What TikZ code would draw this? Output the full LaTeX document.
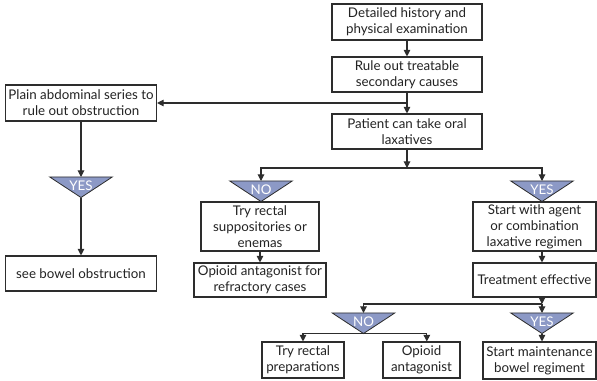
\documentclass[tikz,border=0pt]{standalone}
\usepackage{fontspec}
\setmainfont{Lato}
\usetikzlibrary{arrows.meta,backgrounds}
\definecolor{ink}{RGB}{35,35,35}
\definecolor{edge}{RGB}{45,45,45}
\definecolor{decfill}{RGB}{140,153,198}

\begin{document}
\begin{tikzpicture}[x=0.75pt,y=-0.75pt,
  every node/.style={font=\fontsize{10}{12}\selectfont, text=ink},
  sz/.style 2 args={minimum width=#1*0.75pt, minimum height=#2*0.75pt},
  stepbox/.style={draw=edge, line width=0.8pt, fill=white, align=center, inner sep=0pt},
  decision/.style={sz={62}{20}, inner sep=0pt, anchor=north, text=white},
  arr/.style={draw=edge, line width=0.8pt, -{Triangle[length=5pt,width=5pt]}},
  tri/.style={fill=decfill, draw=edge, line width=0.6pt, line join=miter}
]
\useasboundingbox (0,0) rectangle (597,381);

% main column
\node[stepbox, sz={150}{36}] (b1) at (407,22) {Detailed history and\\physical examination};
\node[stepbox, sz={150}{35}] (b2) at (407,74.5) {Rule out treatable\\secondary causes};
\node[stepbox, sz={150}{35}] (b3) at (407,131.5) {Patient can take oral\\laxatives};

% obstruction branch
\node[stepbox, sz={151}{36}] (plain) at (81,103) {Plain abdominal series to\\rule out obstruction};
\node[decision] (t1) at (81,177) {\raisebox{2pt}{YES}};
\node[stepbox, sz={151}{35}] (bowel) at (81,273.5) {see bowel obstruction};

% oral laxatives: no
\node[decision] (t2) at (261,181) {\raisebox{2pt}{NO}};
\node[stepbox, sz={118}{49}] (supp) at (260,226.5) {Try rectal\\suppositories or\\enemas};
\node[stepbox, sz={132}{34}] (refr) at (260,280) {Opioid antagonist for\\refractory cases};

% oral laxatives: yes
\node[decision] (t3) at (542,181) {\raisebox{2pt}{YES}};
\node[stepbox, sz={123}{49}] (agent) at (534.5,226.5) {Start with agent\\or combination\\laxative regimen};
\node[stepbox, sz={123}{34}] (treat) at (534.5,280) {Treatment effective};

% treatment outcome
\node[decision] (t4) at (363.5,313) {\raisebox{2pt}{NO}};
\node[decision] (t5) at (542,313) {\raisebox{2pt}{YES}};
\node[stepbox, sz={82}{36}] (prep) at (303,360) {Try rectal\\preparations};
\node[stepbox, sz={77}{36}] (opant) at (421.5,360) {Opioid\\antagonist};
\node[stepbox, sz={113}{37}] (maint) at (539.5,360.5) {Start maintenance\\bowel regiment};

% decision triangles behind everything
\begin{scope}[on background layer]
  \foreach \t in {t1,t2,t3,t4,t5}
    \filldraw[tri] (\t.north west) -- (\t.north east) -- (\t.south) -- cycle;
\end{scope}

% connectors
\draw[arr] (b1) -- (b2);
\draw[arr] (b2) -- (b3);
\coordinate (j0) at (b2.south |- plain.east);
\draw[arr] (j0) -- (plain.east);
\draw[arr] (plain) -- (t1.north);
\draw[arr] (t1.south) -- (bowel.north);

\coordinate (j1) at (407,168);
\draw[arr] (b3.south) -- (j1);
\draw[arr] (j1) -| (t2.north);
\draw[arr] (j1) -| (t3.north);
\draw[arr] (supp) -- (refr);
\draw[arr] (agent.south -| t3.south) -- (treat.north -| t3.south);

\coordinate (j2) at (542,304);
\draw[arr] (treat.south -| j2) -- (j2);
\draw[arr] (j2) -| (t4.north);
\draw[arr] (j2) -- (t5.north);
\draw[arr] (t4.south) -| (prep.north);
\draw[arr] (t4.south) -| ([xshift=4pt]opant.north);
\draw[arr] (t5.south) -- (maint.north -| t5.south);
\end{tikzpicture}
\end{document}
